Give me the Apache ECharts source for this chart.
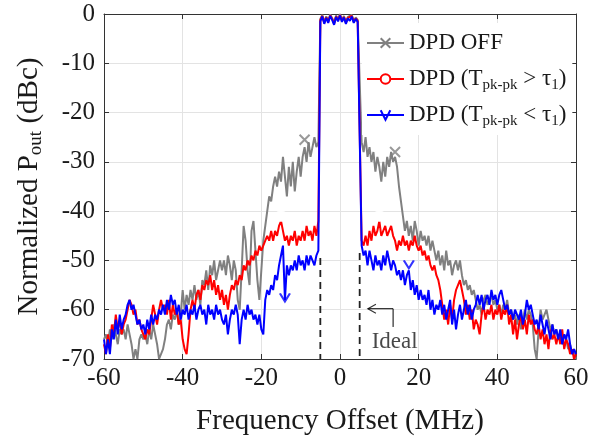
<!DOCTYPE html>
<html>
<head>
<meta charset="utf-8">
<script src="https://cdn.jsdelivr.net/npm/echarts@6/dist/echarts.min.js"></script>
<style>
  html, body { margin: 0; padding: 0; background: #fff; }
  #chart { width: 603px; height: 441px; }
</style>
</head>
<body>
<div id="chart"></div>
<script>
// Frequency grid: -60 … 60 MHz sampled every 0.5 MHz (241 bins)
const FREQ_START = -60;
const FREQ_STEP = 0.5;
const FREQ_COUNT = 241;

const xTicks = [-60, -40, -20, 0, 20, 40, 60];
const yTicks = [0, -10, -20, -30, -40, -50, -60, -70];

const seriesNames = ['DPD OFF', 'DPD (Tpk-pk > τ1)', 'DPD (Tpk-pk < τ1)'];

// DPD OFF spectrum (dBc): lower side (-60 … -5.5), channel (-5 … 5), upper side (5.5 … 60)
const offLower = [
  -66,
  -65, -67, -64, -66, -63, -65, -67, -64, -65, -64,
  -66, -63, -65, -67, -70, -68, -70, -66, -65, -66,
  -65, -67, -64, -66, -63, -65, -67, -70, -70, -68,
  -66, -63, -62, -64, -61, -62, -60, -63, -61, -56,
  -60, -57, -59, -56, -58, -55, -58, -56, -59, -54,
  -55, -52, -56, -51, -53, -50, -54, -52, -50, -52,
  -50, -53, -49, -51, -54, -50, -52, -58, -60, -52,
  -43, -46, -52, -55, -44, -42, -48, -54, -58, -52,
  -46, -43, -40, -37, -38, -35, -33, -35, -32, -34,
  -29, -33, -37, -31, -35, -30, -36, -32, -29, -33,
  -29, -27, -30, -26, -29, -27, -25, -27, -26
];
const offBand = [-1.0, -0.2, -1.6, -0.5, -1.4, -0.1, -0.8, -1.8, -0.3, -1.1, 0,
  -1.2, -0.4, -1.6, -0.6, -1.0, -0.2, -1.4, -0.7, -1.2, -1.6];
const offUpper = [
  -26, -28, -25, -29, -27, -30, -28, -32, -29, -31,
  -34, -30, -33, -29, -31, -28, -30, -29, -31, -35,
  -38, -41, -44, -42, -45, -43, -46, -42, -44, -47,
  -44, -46, -45, -47, -45, -48, -46, -48, -50, -48,
  -51, -49, -52, -48, -51, -50, -53, -51, -50, -52,
  -50, -53, -55, -54, -56, -55, -57, -56, -58, -60,
  -59, -61, -58, -57, -59, -58, -57, -59, -58, -60,
  -59, -61, -59, -60, -58, -61, -60, -62, -61, -63,
  -61, -64, -62, -60, -62, -60, -61, -63, -68, -70,
  -64, -60, -62, -61, -60, -62, -64, -63, -65, -64,
  -66, -65, -67, -65, -66, -68, -67, -69, -68, -70
];

// DPD with Tpk-pk > tau1
const hiLower = [
  -67,
  -69, -65, -68, -63, -65, -61, -64, -62, -65, -63,
  -62, -60, -58, -59, -61, -60, -63, -62, -64, -65,
  -66, -64, -65, -62, -59, -61, -63, -60, -58, -60,
  -59, -61, -58, -62, -59, -61, -60, -63, -62, -66,
  -68, -69, -65, -60, -58, -60, -57, -56, -58, -55,
  -56, -54, -55, -53, -56, -54, -57, -55, -58, -56,
  -59, -57, -60, -57, -55, -56, -54, -55, -53, -54,
  -51, -52, -50, -51, -49, -50, -48, -49, -47, -48,
  -47, -46, -45, -46, -44, -46, -44, -45, -43, -42,
  -44, -46, -45, -47, -45, -46, -44, -47, -45, -46,
  -44, -46, -43, -45, -44, -46, -43, -45, -42
];
const hiBand = [-1.2, -0.4, -1.8, -0.7, -1.6, -0.3, -1.0, -2.0, -0.5, -1.3, -0.2,
  -1.4, -0.6, -1.8, -0.8, -1.2, -0.4, -1.6, -0.9, -1.4, -1.8];
const hiUpper = [
  -46, -47, -45, -47, -44, -46, -43, -45, -44, -42,
  -45, -44, -43, -45, -44, -43, -45, -46, -48, -46,
  -47, -45, -47, -46, -48, -46, -47, -45, -47, -48,
  -47, -49, -48, -50, -49, -51, -52, -51, -53, -54,
  -56, -59, -62, -60, -63, -59, -62, -58, -56, -55,
  -54, -56, -58, -61, -59, -62, -60, -64, -62, -63,
  -65, -61, -59, -62, -60, -61, -59, -62, -60, -61,
  -59, -62, -60, -61, -59, -63, -61, -65, -62, -66,
  -63, -61, -64, -62, -65, -61, -63, -62, -64, -65,
  -63, -66, -64, -67, -65, -68, -64, -66, -65, -67,
  -65, -67, -64, -68, -66, -67, -69, -68, -70, -69
];

// DPD with Tpk-pk < tau1
const loLower = [
  -66,
  -69, -66, -69, -64, -66, -62, -65, -61, -64, -62,
  -61, -59, -58, -60, -59, -61, -63, -62, -64, -63,
  -65, -62, -64, -61, -63, -61, -62, -60, -61, -59,
  -61, -58, -60, -57, -59, -58, -61, -59, -62, -60,
  -61, -59, -62, -60, -61, -59, -62, -60, -59, -61,
  -60, -63, -59, -61, -60, -62, -59, -61, -60, -62,
  -63, -61, -65, -62, -60, -61, -59, -61, -67, -62,
  -60, -62, -59, -61, -60, -62, -61, -63, -61, -64,
  -65, -58, -56, -57, -55, -56, -53, -54, -51, -49,
  -47, -58, -51, -53, -51, -52, -50, -52, -49, -51,
  -50, -52, -49, -51, -49, -50, -51, -49, -48
];
const loBand = [-1.5, -0.5, -2.0, -0.8, -1.8, -0.4, -1.2, -2.2, -0.6, -1.5, -0.3,
  -1.6, -0.7, -2.0, -0.9, -1.4, -0.5, -1.8, -1.0, -1.6, -2.0];
const loUpper = [
  -47, -49, -48, -51, -48, -50, -52, -49, -51, -50,
  -52, -49, -51, -48, -50, -52, -50, -51, -53, -52,
  -54, -52, -55, -53, -52, -56, -54, -57, -55, -58,
  -56, -58, -57, -59, -56, -60, -58, -61, -59, -60,
  -58, -61, -59, -62, -60, -58, -63, -60, -64, -61,
  -59, -62, -60, -58, -61, -59, -62, -60, -59, -57,
  -59, -57, -60, -58, -57, -59, -56, -58, -57, -59,
  -57, -56, -58, -60, -59, -61, -60, -62, -60, -61,
  -62, -60, -63, -61, -58, -60, -59, -61, -63, -62,
  -64, -61, -63, -65, -62, -64, -66, -63, -65, -64,
  -66, -64, -67, -65, -66, -64, -67, -69, -68, -69
];

// Single highlighted markers on each trace: [freq, level]
const offMarkX = [-9, 14];
const offMarkY = [-25.5, -28];
const hiMarkX = [-15, 10];
const hiMarkY = [-41, -41];
const loMarkX = [-14, 17.5];
const loMarkY = [-57.5, -50.8];

// Ideal channel edges (dashed) and their start levels
const edgeX = [-5, 5];
const edgeTop = [-49.5, -48.5];

// "Ideal" call-out: elbow leader and text anchor, in data units
const leaderX = [13.5, 13.5, 7.1];
const leaderY = [-63.5, -59.8, -59.8];
const calloutText = 'Ideal';
const calloutAt = [13.9, -66.6];

const freq = [];
for (let i = 0; i < FREQ_COUNT; i++) freq.push(FREQ_START + i * FREQ_STEP);

const dpdOff = offLower.concat(offBand, offUpper);
const dpdHi = hiLower.concat(hiBand, hiUpper);
const dpdLo = loLower.concat(loBand, loUpper);

const pairs = (xs, ys) => xs.map((x, i) => [x, ys[i]]);

const SERIF = '"Liberation Serif", "Times New Roman", serif';
const INK = '#1a1a1a';
const GRAY = '#808080', RED = '#ff0000', BLUE = '#0000ff';

const SYM_X = 'path://M0,0L10,10M10,0L0,10';
const SYM_V = 'path://M0,0L5,7L10,0';
const SYM_HEAD = 'path://M8,0L0,5L8,10';

const legendLabels = {
  'DPD OFF': 'DPD OFF',
  'DPD (Tpk-pk > τ1)': 'DPD (T{s|pk-pk} > τ{s|1})',
  'DPD (Tpk-pk < τ1)': 'DPD (T{s|pk-pk} < τ{s|1})'
};

function traceSeries(name, values, color, symbol, symbolSize, itemStyle) {
  return {
    name, type: 'line', data: pairs(freq, values),
    symbol, symbolSize, showSymbol: false,
    lineStyle: { color, width: 2 },
    itemStyle,
    emphasis: { disabled: true },
    silent: true, z: 3
  };
}

function markSeries(xs, ys, symbol, symbolSize, itemStyle) {
  return {
    type: 'scatter', data: pairs(xs, ys), symbol, symbolSize,
    itemStyle, emphasis: { disabled: true }, silent: true, z: 4
  };
}

const series = [
  traceSeries(seriesNames[0], dpdOff, GRAY, SYM_X, 10,
    { color: 'none', borderColor: GRAY, borderWidth: 2 }),
  traceSeries(seriesNames[1], dpdHi, RED, 'emptyCircle', 10,
    { color: RED, borderColor: RED, borderWidth: 2 }),
  traceSeries(seriesNames[2], dpdLo, BLUE, SYM_V, [10, 8],
    { color: 'none', borderColor: BLUE, borderWidth: 2 }),
  markSeries(offMarkX, offMarkY, SYM_X, 10, { color: 'none', borderColor: GRAY, borderWidth: 2 }),
  markSeries(hiMarkX, hiMarkY, 'emptyCircle', 10, { color: '#fff', borderColor: RED, borderWidth: 2 }),
  markSeries(loMarkX, loMarkY, SYM_V, [10, 8], { color: 'none', borderColor: BLUE, borderWidth: 2 })
];

edgeX.forEach((x, i) => {
  series.push({
    type: 'line', data: [[x, edgeTop[i]], [x, yTicks[yTicks.length - 1]]],
    symbol: 'none', lineStyle: { color: '#222', width: 1.8, type: [7, 5] },
    silent: true, z: 2
  });
});

series.push({
  type: 'line', data: pairs(leaderX, leaderY), symbol: 'none',
  lineStyle: { color: '#000', width: 1 }, silent: true, z: 5
});
series.push({
  type: 'scatter', data: [[leaderX[2], leaderY[2]]], symbol: SYM_HEAD,
  symbolSize: [8, 9], symbolOffset: [4, 0],
  itemStyle: { color: 'none', borderColor: '#000', borderWidth: 1.2 },
  silent: true, z: 5
});
series.push({
  type: 'scatter', data: [calloutAt], symbolSize: 0, silent: true, z: 5,
  label: { show: true, position: 'inside', formatter: calloutText,
    fontFamily: SERIF, fontSize: 23, color: INK }
});

const xMin = xTicks[0], xMax = xTicks[xTicks.length - 1], xStep = xTicks[1] - xTicks[0];
const yMin = yTicks[yTicks.length - 1], yMax = yTicks[0], yStep = yTicks[0] - yTicks[1];

const frameAxis = { show: true, onZero: false, lineStyle: { color: '#333', width: 1 } };
const frameTick = { show: true, inside: true, length: 5, lineStyle: { color: '#333' } };

const option = {
  animation: false,
  backgroundColor: '#fff',
  grid: { left: 104, right: 27, top: 14, bottom: 77 },
  legend: {
    data: seriesNames,
    orient: 'vertical', left: 362, top: 23,
    padding: [6, 6, 6, 4], itemGap: 8,
    itemWidth: 37, itemHeight: 12,
    backgroundColor: '#fff',
    formatter: n => legendLabels[n],
    textStyle: {
      fontFamily: SERIF, fontSize: 23, color: INK, lineHeight: 28,
      rich: { s: { fontFamily: SERIF, fontSize: 15, color: INK, lineHeight: 15, verticalAlign: 'bottom' } }
    },
    selectedMode: false
  },
  xAxis: [{
    type: 'value', min: xMin, max: xMax, interval: xStep,
    name: 'Frequency Offset (MHz)', nameLocation: 'middle', nameGap: 48,
    nameTextStyle: { fontFamily: SERIF, fontSize: 29, color: INK },
    axisLine: frameAxis, axisTick: frameTick,
    axisLabel: { fontFamily: SERIF, fontSize: 25, color: INK, margin: 7 },
    splitLine: { show: true, lineStyle: { color: '#e3e3e3', width: 1 } }
  }, {
    type: 'value', position: 'top', min: xMin, max: xMax, interval: xStep,
    axisLine: frameAxis, axisTick: frameTick, axisLabel: { show: false }, splitLine: { show: false }
  }],
  yAxis: [{
    type: 'value', min: yMin, max: yMax, interval: yStep,
    name: 'Normalized P{s|out} (dBc)', nameLocation: 'middle', nameGap: 58, nameRotate: 90,
    nameTextStyle: {
      fontFamily: SERIF, fontSize: 29, color: INK, lineHeight: 34,
      rich: { s: { fontFamily: SERIF, fontSize: 19, color: INK, lineHeight: 19, verticalAlign: 'bottom' } }
    },
    axisLine: frameAxis, axisTick: frameTick,
    axisLabel: { fontFamily: SERIF, fontSize: 25, color: INK, margin: 9 },
    splitLine: { show: true, lineStyle: { color: '#e3e3e3', width: 1 } }
  }, {
    type: 'value', position: 'right', min: yMin, max: yMax, interval: yStep,
    axisLine: frameAxis, axisTick: frameTick, axisLabel: { show: false }, splitLine: { show: false }
  }],
  series
};

const chart = echarts.init(document.getElementById('chart'), null, { renderer: 'canvas' });
chart.setOption(option);
</script>
</body>
</html>
